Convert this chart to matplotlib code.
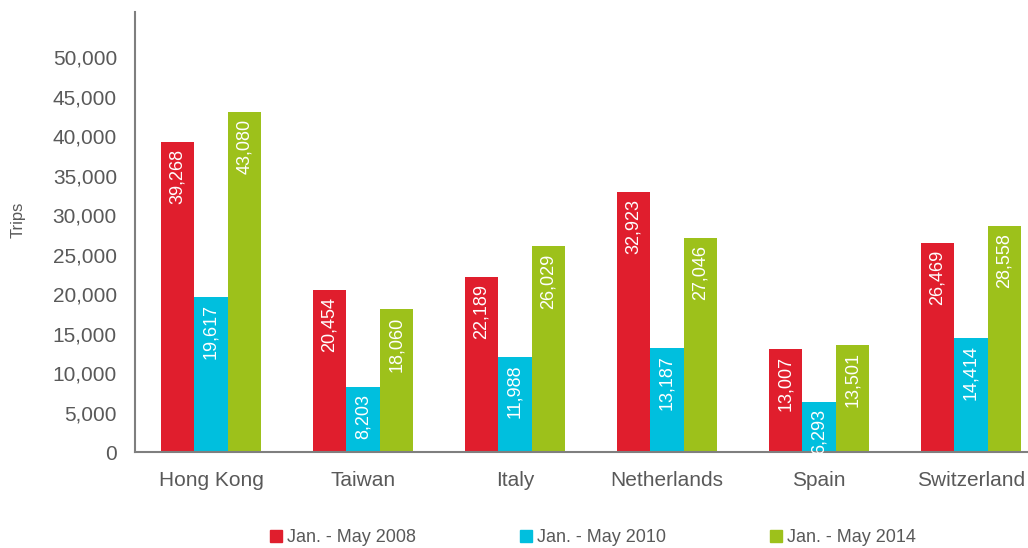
import numpy as np
import matplotlib.pyplot as plt
from matplotlib.patches import Patch

# Datos.
paises = ['Hong Kong', 'Taiwan', 'Italy', 'Netherlands', 'Spain', 'Switzerland']
series = ['Jan. - May 2008', 'Jan. - May 2010', 'Jan. - May 2014']
viajes_2008 = [39268, 20454, 22189, 32923, 13007, 26469]
viajes_2010 = [19617, 8203, 11988, 13187, 6293, 14414]
viajes_2014 = [43080, 18060, 26029, 27046, 13501, 28558]
colores = ['#E01E2D', '#00BFDE', '#9DC11B']

plt.rcParams['font.family'] = ['Liberation Sans', 'DejaVu Sans']
gris = '#595959'

fig = plt.figure(figsize=(10.28, 5.48), dpi=100)
ax = fig.add_axes([135 / 1028, 1 - 452 / 548, 1 - 135 / 1028, 440 / 548])

x = np.arange(len(paises))
ancho = 0.22
for i, (valores, color) in enumerate(zip([viajes_2008, viajes_2010, viajes_2014], colores)):
    pos = x + (i - 1) * ancho
    ax.bar(pos, valores, width=ancho, color=color)
    for p, v in zip(pos, valores):
        ax.annotate(f'{v:,}', (p, v), xytext=(0, -5), textcoords='offset points',
                    rotation=90, ha='center', va='top', color='white', fontsize=13)

ax.set_xlim(-0.5, 5.375)
ax.set_ylim(0, 55700)
ax.set_yticks(range(0, 50001, 5000))
ax.set_yticklabels([f'{t:,}' for t in range(0, 50001, 5000)])
ax.set_xticks(x)
ax.set_xticklabels(paises)
ax.tick_params(length=0, labelsize=15, colors=gris)
ax.tick_params(axis='y', pad=13)
ax.tick_params(axis='x', pad=14)
for lado in ['top', 'right']:
    ax.spines[lado].set_visible(False)
for lado in ['left', 'bottom']:
    ax.spines[lado].set_color('#7f7f7f')
    ax.spines[lado].set_linewidth(1.5)

fig.text(18 / 1028, 1 - 220 / 548, 'Trips', rotation=90, ha='center', va='center',
         fontsize=12, color=gris)

manijas = [Patch(color=c) for c in colores]
fig.legend(manijas, series, loc='center', bbox_to_anchor=(593 / 1028, 1 - 538 / 548),
           ncol=3, frameon=False, fontsize=13, labelcolor=gris, handlelength=0.65,
           handleheight=0.65, handletextpad=0.3, columnspacing=5.75)

fig.savefig('out.png', dpi=100)
